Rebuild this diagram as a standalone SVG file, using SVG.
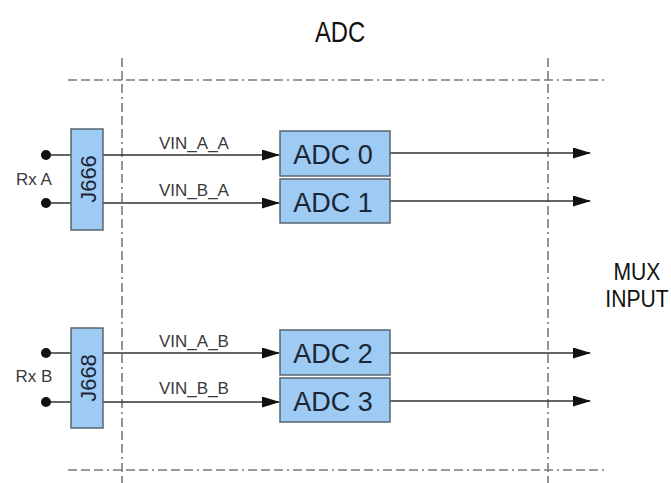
<svg xmlns="http://www.w3.org/2000/svg" width="671" height="483" viewBox="0 0 671 483">
<defs>
<style>
.bd{stroke:#7a7a7a;stroke-width:1.6;fill:none;stroke-dasharray:9 4 9 4 9 4 2 4}
.ln{stroke:#333;stroke-width:1.5;fill:none}
.box{fill:#9dcbf3;stroke:#5a6470;stroke-width:1.5}
.bt{font-family:"Liberation Sans",Arial,sans-serif;font-size:27px;fill:#1c2636;text-anchor:middle}
.lb{font-family:"Liberation Sans",Arial,sans-serif;font-size:17px;fill:#3a3a3a;text-anchor:middle}
.tt{font-family:"Liberation Sans",Arial,sans-serif;font-size:29px;fill:#111;text-anchor:middle}
</style>
<marker id="ah" markerWidth="18" markerHeight="11" refX="17" refY="5.5" orient="auto" markerUnits="userSpaceOnUse">
<path d="M0,0 L18,5.5 L0,11 Z" fill="#111"/>
</marker>
</defs>
<rect width="671" height="483" fill="#fff"/>
<g id="boundary">
<line class="bd" x1="68" y1="80" x2="604" y2="80"/>
<line class="bd" x1="68" y1="470" x2="604" y2="470"/>
<line class="bd" x1="122" y1="58" x2="122" y2="483"/>
<line class="bd" x1="548" y1="58" x2="548" y2="483"/>
</g>
<text class="tt" transform="translate(340,42) scale(0.82,1)">ADC</text>
<text class="tt" transform="translate(637,280) scale(0.88,1)" style="font-size:24px">MUX</text>
<text class="tt" transform="translate(637,307) scale(0.88,1)" style="font-size:24px">INPUT</text>
<g id="connectors">
<line class="ln" x1="46" y1="155" x2="71" y2="155"/>
<line class="ln" x1="46" y1="203" x2="71" y2="203"/>
<line class="ln" x1="46" y1="353" x2="71" y2="353"/>
<line class="ln" x1="46" y1="402" x2="71" y2="402"/>
<line class="ln" x1="103" y1="155" x2="279" y2="155" marker-end="url(#ah)"/>
<line class="ln" x1="103" y1="203" x2="279" y2="203" marker-end="url(#ah)"/>
<line class="ln" x1="103" y1="353" x2="279" y2="353" marker-end="url(#ah)"/>
<line class="ln" x1="103" y1="402" x2="279" y2="402" marker-end="url(#ah)"/>
<line class="ln" x1="390" y1="153" x2="590" y2="153" marker-end="url(#ah)"/>
<line class="ln" x1="390" y1="201" x2="590" y2="201" marker-end="url(#ah)"/>
<line class="ln" x1="390" y1="353" x2="590" y2="353" marker-end="url(#ah)"/>
<line class="ln" x1="390" y1="401" x2="590" y2="401" marker-end="url(#ah)"/>
<circle cx="46" cy="155" r="5" fill="#111"/>
<circle cx="46" cy="203" r="5" fill="#111"/>
<circle cx="46" cy="353" r="5" fill="#111"/>
<circle cx="46" cy="402" r="5" fill="#111"/>
<text class="lb" x="194" y="149">VIN_A_A</text>
<text class="lb" x="194" y="196">VIN_B_A</text>
<text class="lb" x="194" y="347">VIN_A_B</text>
<text class="lb" x="194" y="394">VIN_B_B</text>
<text class="lb" x="34" y="185">Rx A</text>
<text class="lb" x="34" y="382">Rx B</text>
</g>
<g id="j666">
<rect class="box" x="71" y="129" width="32" height="101"/>
<text class="bt" transform="translate(96,179) rotate(-90)" style="font-size:22px">J666</text>
</g>
<g id="j668">
<rect class="box" x="71" y="328" width="32" height="100"/>
<text class="bt" transform="translate(96,378) rotate(-90)" style="font-size:22px">J668</text>
</g>
<g id="adc0">
<rect class="box" x="280" y="131" width="110" height="45"/>
<text class="bt" x="333" y="164">ADC 0</text>
</g>
<g id="adc1">
<rect class="box" x="280" y="179" width="110" height="44"/>
<text class="bt" x="333" y="212">ADC 1</text>
</g>
<g id="adc2">
<rect class="box" x="280" y="330" width="110" height="45"/>
<text class="bt" x="333" y="363">ADC 2</text>
</g>
<g id="adc3">
<rect class="box" x="280" y="378" width="110" height="44"/>
<text class="bt" x="333" y="411">ADC 3</text>
</g>
</svg>
